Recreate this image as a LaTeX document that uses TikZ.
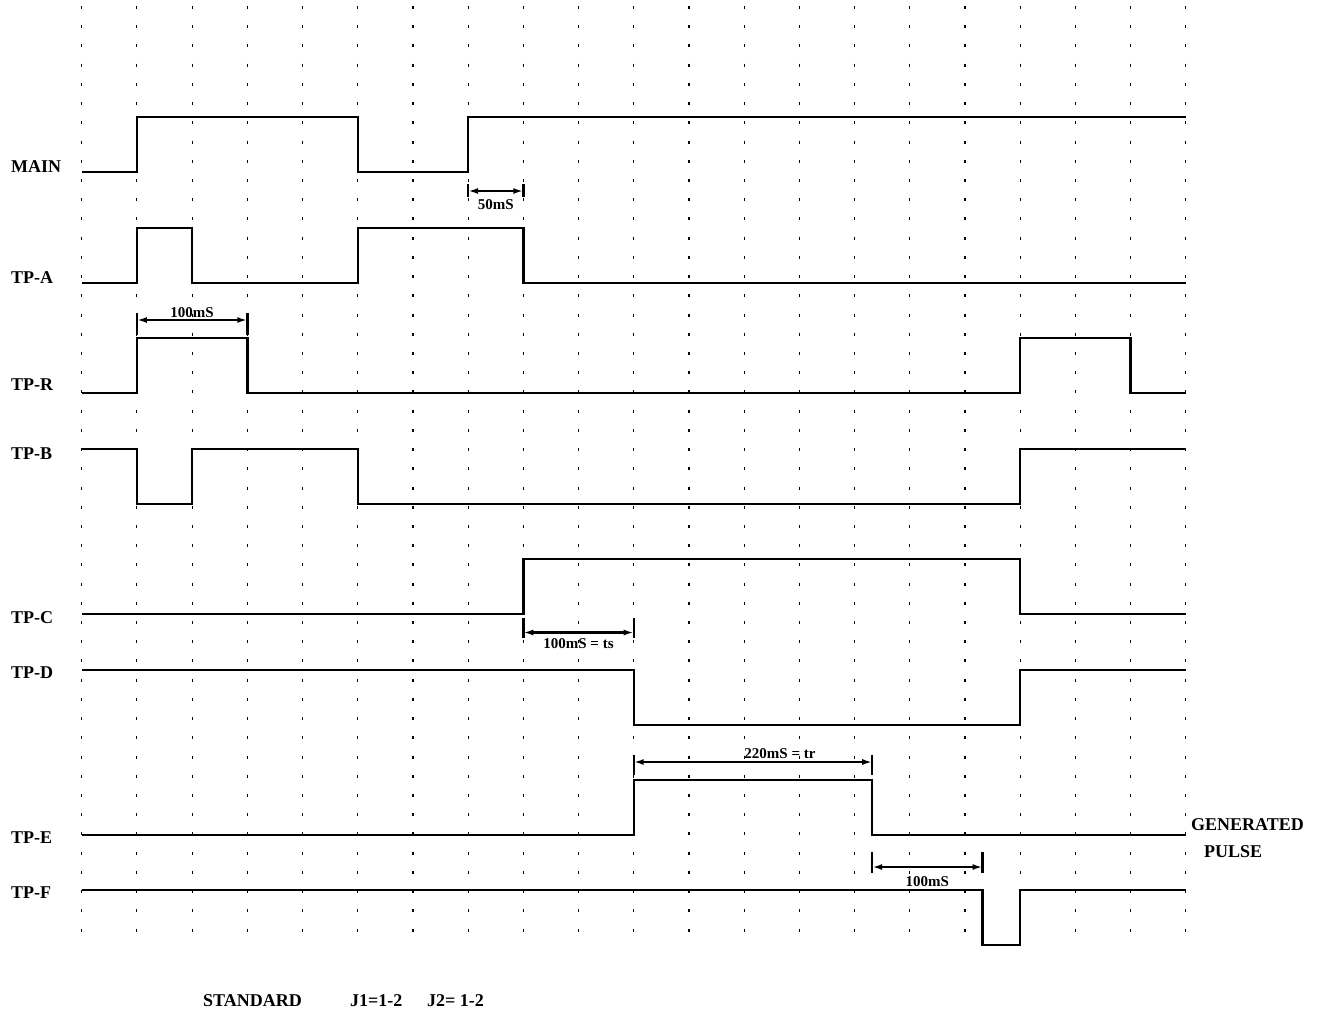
\documentclass[tikz,border=0pt]{standalone}
\usepackage{fontspec}
\setmainfont{Liberation Serif}
\usetikzlibrary{arrows.meta}

\begin{document}
\begin{tikzpicture}[x=55.2pt,y=-1pt,shift={(81.7pt,0pt)},
    sig/.style={line width=2.4pt,line join=miter},
    dimline/.style={line width=2.3pt,{Latex[length=10pt,width=6pt]}-{Latex[length=10pt,width=6pt]}},
    dimtick/.style={line width=2.4pt},
    siglabel/.style={font=\bfseries\fontsize{18}{20}\selectfont,anchor=base west,inner sep=0pt},
    dimlabel/.style={font=\bfseries\fontsize{15}{17}\selectfont,anchor=base,inner sep=0pt}]
        \useasboundingbox (-1.48,0) rectangle (22.487,1014);
        \foreach \t in {0,...,20}
          \draw[line width=1.2pt,dash pattern=on 3pt off 16.22pt] (\t,6) -- (\t,932);
        \node[siglabel] (main) at (-1.28,172) {MAIN};
        \node[siglabel] (tpa) at (-1.28,283) {TP-A};
        \node[siglabel] (tpr) at (-1.28,390) {TP-R};
        \node[siglabel] (tpb) at (-1.28,459) {TP-B};
        \node[siglabel] (tpc) at (-1.28,623) {TP-C};
        \node[siglabel] (tpd) at (-1.28,678) {TP-D};
        \node[siglabel] (tpe) at (-1.28,843) {TP-E};
        \node[siglabel] (tpf) at (-1.28,898) {TP-F};
        \node[siglabel] (gen) at (20.096,830) {GENERATED};
        \node[siglabel] (pulse) at (20.33,857) {PULSE};
        \node[siglabel] (std) at (2.198,1006) {STANDARD};
        \node[siglabel] (jone) at (4.86,1006) {J1=1-2};
        \node[siglabel] (jtwo) at (6.256,1006) {J2= 1-2};
        \draw[sig] (0,172) -- (1,172) -- (1,117) -- (5,117) -- (5,172) -- (7,172) -- (7,117) -- (20,117);
        \draw[sig] (0,283) -- (1,283) -- (1,228) -- (2,228) -- (2,283) -- (5,283) -- (5,228) -- (8,228) -- (8,283) -- (20,283);
        \draw[sig] (0,393) -- (1,393) -- (1,338) -- (3,338) -- (3,393) -- (17,393) -- (17,338) -- (19,338) -- (19,393) -- (20,393);
        \draw[sig] (0,449) -- (1,449) -- (1,504) -- (2,504) -- (2,449) -- (5,449) -- (5,504) -- (17,504) -- (17,449) -- (20,449);
        \draw[sig] (0,614) -- (8,614) -- (8,559) -- (17,559) -- (17,614) -- (20,614);
        \draw[sig] (0,670) -- (10,670) -- (10,725) -- (17,725) -- (17,670) -- (20,670);
        \draw[sig] (0,835) -- (10,835) -- (10,780) -- (14.32,780) -- (14.32,835) -- (20,835);
        \draw[sig] (0,890) -- (16.32,890) -- (16.32,945) -- (17,945) -- (17,890) -- (20,890);
        \coordinate (da1) at (7,191);
        \coordinate (da2) at (8,191);
        \draw[dimtick] (7,184) -- (7,197);
        \draw[dimtick] (8,184) -- (8,197);
        \draw[dimline] (da1) -- (da2);
        \node[dimlabel] (l50) at (7.5,209) {50mS};
        \coordinate (db1) at (1,320);
        \coordinate (db2) at (3,320);
        \draw[dimtick] (1,313) -- (1,335);
        \draw[dimtick] (3,313) -- (3,335);
        \draw[dimline] (db1) -- (db2);
        \node[dimlabel] (l100r) at (2,317) {100mS};
        \coordinate (dc1) at (8,632.5);
        \coordinate (dc2) at (10,632.5);
        \draw[dimtick] (8,618) -- (8,638);
        \draw[dimtick] (10,618) -- (10,638);
        \draw[dimline] (dc1) -- (dc2);
        \node[dimlabel] (lts) at (9,648) {100mS = ts};
        \coordinate (dd1) at (10,762);
        \coordinate (dd2) at (14.32,762);
        \draw[dimtick] (10,755) -- (10,775);
        \draw[dimtick] (14.32,755) -- (14.32,775);
        \draw[dimline] (dd1) -- (dd2);
        \node[dimlabel] (ltr) at (12.65,758) {220mS = tr};
        \coordinate (de1) at (14.32,867);
        \coordinate (de2) at (16.32,867);
        \draw[dimtick] (14.32,852) -- (14.32,873);
        \draw[dimtick] (16.32,852) -- (16.32,873);
        \draw[dimline] (de1) -- (de2);
        \node[dimlabel] (l100f) at (15.32,886) {100mS};
      \end{tikzpicture}
\end{document}
